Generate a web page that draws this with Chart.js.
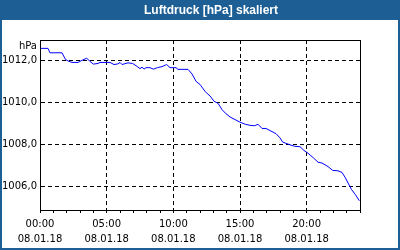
<!DOCTYPE html>
<html>
<head>
<meta charset="utf-8">
<script src="https://cdn.jsdelivr.net/npm/chart.js@4"></script>
<style>
    body { margin: 0; background: #fff; }
    canvas { display: block; }
</style>
</head>
<body>
<canvas id="druck-chart" width="400" height="250"></canvas>
<script>
const chartTitle = 'Luftdruck [hPa] skaliert'
const unitLabel = 'hPa'
const dayLabel = '08.01.18'

// Stunden seit 00:00 und Luftdruck in hPa
const hours = [0, 0.6, 0.75, 1.65, 1.9, 2.1, 2.4, 2.85, 3.15, 3.5, 3.75, 4.0, 4.35, 4.5, 5.25, 5.55, 5.85, 6.0, 6.15, 6.6,
    6.95, 7.3, 7.5, 7.65, 7.8, 7.95, 8.25, 8.5, 8.8, 9.15, 9.5, 9.75, 10.2, 10.35, 11.1, 11.4, 11.7, 12.0, 12.4, 12.75,
    13.05, 13.35, 13.65, 13.95, 14.25, 14.7, 15.0, 15.4, 15.75, 16.1, 16.35, 16.65, 16.95, 17.25, 17.7, 18.0, 18.2, 18.75,
    19.1, 19.5, 19.8, 20.1, 20.5, 20.85, 21.15, 21.6, 21.95, 22.35, 22.65, 22.9, 23.1, 23.35, 23.65, 23.95]
const pressure = [1012.57, 1012.57, 1012.36, 1012.36, 1012.05, 1011.97, 1011.9, 1011.9, 1012.0, 1012.1, 1011.95, 1011.82, 1011.85, 1011.9, 1011.9, 1011.8, 1011.83, 1011.9, 1011.8, 1011.88,
    1011.85, 1011.7, 1011.6, 1011.68, 1011.58, 1011.65, 1011.65, 1011.58, 1011.65, 1011.7, 1011.8, 1011.65, 1011.65, 1011.57, 1011.57, 1011.35, 1011.0, 1010.85, 1010.5, 1010.3,
    1010.05, 1009.95, 1009.65, 1009.45, 1009.3, 1009.15, 1009.05, 1008.95, 1008.9, 1008.88, 1008.95, 1008.75, 1008.75, 1008.65, 1008.5, 1008.3, 1008.1, 1007.97,
    1007.9, 1007.88, 1007.7, 1007.57, 1007.35, 1007.14, 1007.1, 1006.93, 1006.75, 1006.73, 1006.65, 1006.4, 1006.15, 1005.85, 1005.6, 1005.3]

const yTicks = [1006, 1008, 1010, 1012]
const xLabels = ['00:00', '05:00', '10:00', '15:00', '20:00']

const barColor = '#1d5f95'
const fontName = 'DejaVu Sans'

const framePlugin = {
    id: 'frame',
    beforeDraw(chart) {
        const ctx = chart.ctx
        ctx.save()
        ctx.fillStyle = '#fff'
        ctx.fillRect(0, 0, chart.width, chart.height)
        ctx.fillStyle = barColor
        ctx.fillRect(0, 0, chart.width, 20)
        ctx.fillStyle = '#fff'
        ctx.font = 'bold 12px "Liberation Sans"'
        ctx.textAlign = 'center'
        ctx.textBaseline = 'middle'
        ctx.fillText(chartTitle, 211, 10.5)
        ctx.restore()
    },
    afterDraw(chart) {
        const ctx = chart.ctx
        const a = chart.chartArea
        ctx.save()
        ctx.strokeStyle = '#000'
        ctx.lineWidth = 1
        ctx.strokeRect(a.left + 0.5, a.top + 0.5, a.right - a.left, a.bottom - a.top)
        ctx.fillStyle = '#000'
        ctx.font = '10px "' + fontName + '"'
        ctx.textAlign = 'right'
        ctx.textBaseline = 'middle'
        ctx.fillText(unitLabel, 37, 46)
        // Rahmen
        ctx.fillStyle = barColor
        ctx.fillRect(0, 20, 2, chart.height - 20)
        ctx.fillRect(chart.width - 2, 20, 2, chart.height - 20)
        ctx.fillRect(0, chart.height - 2, chart.width, 2)
        ctx.restore()
    }
}

const config = {
    type: 'line',
    data: {
        datasets: [{
            data: hours.map((h, i) => ({ x: h, y: pressure[i] })),
            borderColor: '#0000ff',
            borderWidth: 1,
            pointRadius: 0,
            tension: 0,
            fill: false
        }]
    },
    options: {
        responsive: false,
        animation: false,
        devicePixelRatio: 1,
        layout: { padding: { top: 40, right: 40, left: 0, bottom: 0 } },
        plugins: {
            legend: { display: false },
            title: { display: false },
            tooltip: { enabled: false }
        },
        scales: {
            x: {
                type: 'linear',
                min: 0,
                max: 24,
                afterBuildTicks: s => { s.ticks = Array.from({ length: 25 }, (_, i) => ({ value: i })) },
                afterFit: s => { s.height = 40 },
                border: { display: true, color: '#000', width: 1, dash: [4, 3] },
                grid: {
                    color: c => (c.tick && c.tick.value % 5 === 0 && c.tick.value > 0 && c.tick.value < 24) ? '#000' : 'rgba(0,0,0,0)',
                    tickColor: '#000',
                    tickLength: 3,
                    lineWidth: 1
                },
                ticks: {
                    autoSkip: false,
                    maxRotation: 0,
                    padding: 4,
                    color: '#000',
                    font: { family: fontName, size: 10, lineHeight: 1.5 },
                    callback: v => v % 5 === 0 && v < 24 ? [xLabels[v / 5], dayLabel] : ''
                }
            },
            y: {
                type: 'linear',
                min: 1004.86,
                max: 1012.97,
                afterBuildTicks: s => { s.ticks = yTicks.map(v => ({ value: v })) },
                afterFit: s => { s.width = 40 },
                border: { display: true, color: '#000', width: 1, dash: [4, 3] },
                grid: {
                    color: '#000',
                    lineWidth: 1,
                    drawTicks: false
                },
                ticks: {
                    padding: 3,
                    color: '#000',
                    font: { family: fontName, size: 10 },
                    callback: v => v.toFixed(1).replace('.', ',')
                }
            }
        }
    },
    plugins: [framePlugin]
}

new Chart(document.getElementById('druck-chart').getContext('2d'), config)
</script>
</body>
</html>
